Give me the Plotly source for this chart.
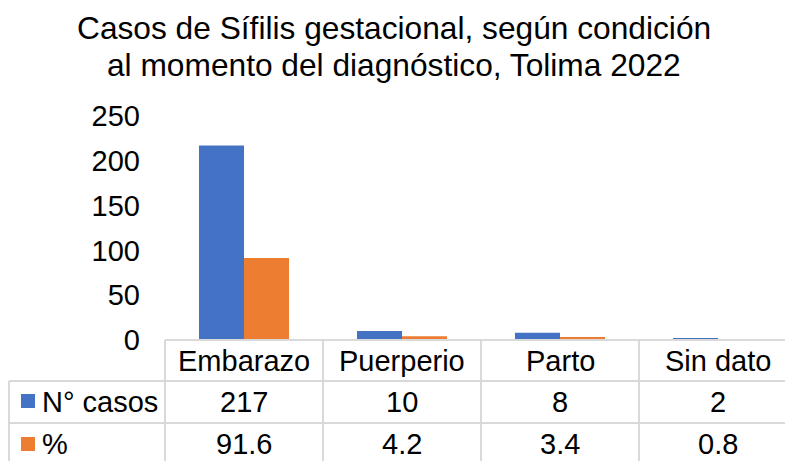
import plotly.graph_objects as go

categories = ["Embarazo", "Puerperio", "Parto", "Sin dato"]
casos = [217, 10, 8, 2]
porcentaje = [91.6, 4.2, 3.4, 0.8]
series_names = ["N° casos", "%"]
pct_labels = ["91.6", "4.2", "3.4", "0.8"]
title_lines = ["Casos de Sífilis gestacional, según condición",
               "al momento del diagnóstico, Tolima 2022"]

BLUE = "#4472C4"
ORANGE = "#ED7D31"
GRID = "#D9D9D9"
FONT = "Liberation Sans, Arial, sans-serif"

W, H = 785, 461
L, R, T, B = 165, 0, 116, 121
plot_w = W - L - R
plot_h = H - T - B
col_w = 158.0
x0 = -0.5
x1 = x0 + plot_w / col_w

def px_to_paper_x(px):
    return (px - L) / plot_w

def px_to_paper_y(py):
    return (H - B - py) / plot_h

def cat_to_paper_x(c):
    return (c - x0) / (x1 - x0)

fig = go.Figure()
fig.add_trace(go.Bar(x=list(range(len(categories))), y=casos, name=series_names[0],
                     marker=dict(color=BLUE, line=dict(width=0))))
fig.add_trace(go.Bar(x=list(range(len(categories))), y=porcentaje, name=series_names[1],
                     marker=dict(color=ORANGE, line=dict(width=0))))

shapes = []
line = dict(color=GRID, width=2)
row_top = 340
row1 = 381
row2 = 423
row_bot = 466
left_edge = 9
# horizontal lines
shapes.append(dict(type="line", xref="paper", yref="paper", x0=0, x1=1.02,
                   y0=px_to_paper_y(row_top), y1=px_to_paper_y(row_top), line=line))
for yy in (row1, row2, row_bot):
    shapes.append(dict(type="line", xref="paper", yref="paper", x0=px_to_paper_x(left_edge), x1=1.02,
                       y0=px_to_paper_y(yy), y1=px_to_paper_y(yy), line=line))
# vertical lines at category boundaries
for i in range(len(categories) + 1):
    xp = cat_to_paper_x(i - 0.5)
    shapes.append(dict(type="line", xref="paper", yref="paper", x0=xp, x1=xp,
                       y0=px_to_paper_y(row_top), y1=px_to_paper_y(row_bot), line=line))
shapes.append(dict(type="line", xref="paper", yref="paper",
                   x0=px_to_paper_x(left_edge), x1=px_to_paper_x(left_edge),
                   y0=px_to_paper_y(row1), y1=px_to_paper_y(row_bot), line=line))
# legend keys
for (yc, col) in ((401, BLUE), (444, ORANGE)):
    shapes.append(dict(type="rect", xref="paper", yref="paper",
                       x0=px_to_paper_x(21), x1=px_to_paper_x(35),
                       y0=px_to_paper_y(yc - 7), y1=px_to_paper_y(yc + 7),
                       fillcolor=col, line=dict(width=0)))

ann = []
tf = dict(family=FONT, size=29, color="#000000")
r1c = (row_top + row1) / 2
r2c = (row1 + row2) / 2
r3c = (row2 + row_bot) / 2 - 1
for i, c in enumerate(categories):
    ann.append(dict(x=i, xref="x", y=px_to_paper_y(r1c), yref="paper", text=c,
                    showarrow=False, font=tf, xanchor="center", yanchor="middle"))
    ann.append(dict(x=i, xref="x", y=px_to_paper_y(r2c), yref="paper", text=str(casos[i]),
                    showarrow=False, font=tf, xanchor="center", yanchor="middle"))
    ann.append(dict(x=i, xref="x", y=px_to_paper_y(r3c), yref="paper", text=pct_labels[i],
                    showarrow=False, font=tf, xanchor="center", yanchor="middle"))
for name, yc in zip(series_names, (r2c, r3c)):
    ann.append(dict(x=px_to_paper_x(40), xref="paper", y=px_to_paper_y(yc), yref="paper", text=name,
                    showarrow=False, font=tf, xanchor="left", yanchor="middle"))
titf = dict(family=FONT, size=31.7, color="#000000")
for line_txt, yc in zip(title_lines, (28, 65)):
    ann.append(dict(x=px_to_paper_x(394), xref="paper", y=px_to_paper_y(yc), yref="paper",
                    text=line_txt, showarrow=False, font=titf, xanchor="center", yanchor="middle"))

fig.update_layout(
    width=W, height=H,
    margin=dict(l=L, r=R, t=T, b=B, pad=0),
    paper_bgcolor="white", plot_bgcolor="white",
    barmode="group", bargap=0.43, bargroupgap=0,
    showlegend=False,
    shapes=shapes, annotations=ann,
    font=dict(family=FONT, size=29, color="#000000"),
    xaxis=dict(range=[x0, x1], showticklabels=False, showgrid=False, zeroline=False,
               showline=False, ticks=""),
    yaxis=dict(range=[0, 250], dtick=50, tick0=0, showgrid=False, zeroline=False,
               showline=False, ticks="", ticklabelstandoff=24,
               tickfont=dict(family=FONT, size=29, color="#000000")),
)

fig.write_html("out.html",
               config={"displayModeBar": False},
               post_script="document.body.style.margin='0px';document.body.style.overflow='hidden';")
